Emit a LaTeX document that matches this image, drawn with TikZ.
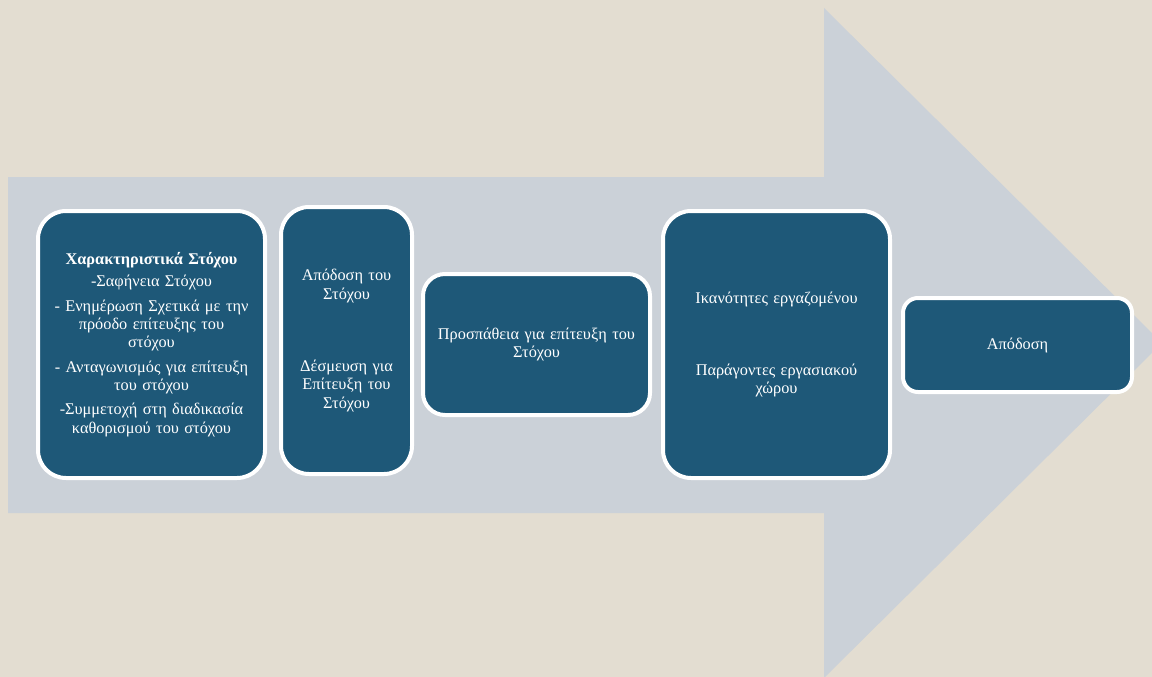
\documentclass[tikz,border=0pt]{standalone}
\usepackage{fontspec}
\setmainfont{Liberation Serif}
\definecolor{bg}{HTML}{E3DDD1}
\definecolor{arrowc}{HTML}{CBD1D8}
\definecolor{boxc}{HTML}{1E5878}
\begin{document}
\begin{tikzpicture}[x=1pt,y=-1pt,
  box/.style={draw=white, line width=4pt, fill=boxc, rounded corners=#1,
    text=white, align=center, inner sep=0pt, font=\fontsize{16.3}{18.3}\selectfont},
  box/.default=28pt]
\fill[bg] (0,0) rectangle (1152,677);
\useasboundingbox (0,0) rectangle (1152,677);
\coordinate (s1) at (8,177);
\coordinate (s2) at (824,177);
\coordinate (h1) at (824,8);
\coordinate (tip) at (1162,343);
\coordinate (h2) at (824,678);
\coordinate (s3) at (824,513);
\coordinate (s4) at (8,513);
\fill[arrowc] (s1) -- (s2) -- (h1) -- (tip) -- (h2) -- (s3) -- (s4) -- cycle;
\node[box, minimum width=227pt, minimum height=267pt, text width=219pt] (b1) at (151.5,344.5)
  {\textbf{Χαρακτηριστικά Στόχου}\\[4pt]
   -Σαφήνεια Στόχου\\[6pt]
   - Ενημέρωση Σχετικά με την\\ πρόοδο επίτευξης του\\ στόχου\\[6pt]
   - Ανταγωνισμός για επίτευξη\\ του στόχου\\[6pt]
   -Συμμετοχή στη διαδικασία\\ καθορισμού του στόχου};
\node[box, minimum width=131pt, minimum height=267pt, text width=127pt] (b2) at (346.5,340.5)
  {Απόδοση του\\ Στόχου\\[54pt]
   Δέσμευση για\\ Επίτευξη του\\ Στόχου};
\node[box=22pt, minimum width=227pt, minimum height=141pt, text width=219pt] (b3) at (536.5,344.5)
  {Προσπάθεια για επίτευξη του\\ Στόχου};
\node[box, minimum width=227pt, minimum height=267pt, text width=219pt] (b4) at (776.5,344.5)
  {\raisebox{0pt}{Ικανότητες εργαζομένου}\\[54pt]
   Παράγοντες εργασιακού\\ χώρου};
\node[box=15pt, minimum width=229pt, minimum height=94pt, text width=219pt] (b5) at (1017.5,345)
  {Απόδοση};
\end{tikzpicture}
\end{document}
